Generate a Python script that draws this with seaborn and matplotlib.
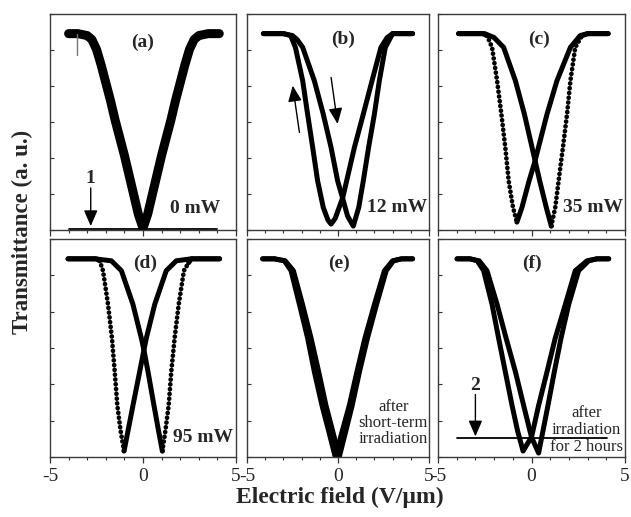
import numpy as np
import pandas as pd
import matplotlib
matplotlib.use("Agg")
import matplotlib.pyplot as plt
import seaborn as sns

# ---------------- data ----------------
# Electric field (V/um) and normalised transmittance for each sweep
A_E = [-4.0, -3.5, -3.0, -2.75, -2.5, -2.25, -2.0, -1.75, -1.5, -1.25, -1.0, -0.75, -0.5, -0.25, 0.0,
       0.25, 0.5, 0.75, 1.0, 1.25, 1.5, 1.75, 2.0, 2.25, 2.5, 2.75, 3.0, 3.5, 4.1]
A_T = [1.00, 1.00, 0.99, 0.97, 0.92, 0.84, 0.75, 0.66, 0.56, 0.47, 0.38, 0.28, 0.18, 0.08, 0.01,
       0.08, 0.18, 0.28, 0.38, 0.47, 0.56, 0.66, 0.75, 0.84, 0.92, 0.97, 0.99, 1.00, 1.00]
A_SPIKE_E = [-3.55, -3.55]
A_SPIKE_T = [1.00, 0.89]

B1_E = [-4.1, -3.5, -3.0, -2.6, -2.34, -1.94, -1.67, -1.39, -1.12, -0.81, -0.55, -0.38, -0.15, 0.26, 0.6,
        0.9, 1.39, 1.87, 2.36, 2.7, 3.0, 3.5, 4.1]
B1_T = [1.0, 1.0, 1.0, 0.99, 0.93, 0.76, 0.59, 0.42, 0.25, 0.115, 0.05, 0.03, 0.06, 0.165, 0.30,
        0.42, 0.59, 0.76, 0.93, 0.98, 1.0, 1.0, 1.0]
B2_E = [-4.1, -3.5, -3.0, -2.5, -2.25, -1.94, -1.3, -0.81, -0.38, -0.02, 0.26, 0.53, 0.84, 1.14, 1.39,
        1.68, 2.0, 2.27, 2.6, 3.0, 3.5, 4.1]
B2_T = [1.0, 1.0, 1.0, 0.99, 0.97, 0.93, 0.76, 0.59, 0.42, 0.25, 0.16, 0.07, 0.02, 0.115, 0.25,
        0.42, 0.59, 0.76, 0.93, 1.0, 1.0, 1.0]

C1_E = [-3.9, -3.0, -2.6, -2.38, -2.11, -1.84, -1.61, -1.4, -1.22, -0.99, -0.78, -0.51, -0.13, 0.17,
        0.37, 0.83, 1.36, 2.08, 2.6, 3.0, 4.1]
C1_T = [1.0, 1.0, 1.0, 0.99, 0.93, 0.76, 0.59, 0.42, 0.25, 0.115, 0.04, 0.115, 0.25, 0.345,
        0.42, 0.59, 0.76, 0.93, 0.99, 1.0, 1.0]
C2_E = [-3.9, -3.0, -2.5, -2.0, -1.49, -0.86, -0.38, 0.03, 0.44, 0.79, 1.06, 1.27, 1.45, 1.68, 1.9,
        2.08, 2.34, 2.7, 3.0, 4.1]
C2_T = [1.0, 1.0, 1.0, 0.98, 0.93, 0.76, 0.59, 0.42, 0.25, 0.115, 0.02, 0.115, 0.25, 0.42, 0.59,
        0.76, 0.93, 0.99, 1.0, 1.0]

D1_E = [-4.03, -3.0, -2.5, -2.33, -2.15, -1.88, -1.67, -1.52, -1.38, -1.2, -1.02, -0.81, -0.54, -0.18,
        0.05, 0.18, 0.63, 1.25, 1.79, 2.6, 4.12]
D1_T = [1.0, 1.0, 1.0, 0.99, 0.94, 0.77, 0.60, 0.43, 0.26, 0.13, 0.03, 0.13, 0.26, 0.43,
        0.54, 0.60, 0.77, 0.94, 0.99, 1.0, 1.0]
D2_E = [-4.03, -2.6, -1.7, -1.16, -0.54, -0.09, 0.05, 0.27, 0.59, 0.84, 1.04, 1.2, 1.38, 1.52, 1.7,
        1.92, 2.2, 2.45, 2.6, 4.12]
D2_T = [1.0, 1.0, 0.99, 0.94, 0.77, 0.60, 0.54, 0.43, 0.26, 0.13, 0.03, 0.13, 0.26, 0.43, 0.60,
        0.77, 0.94, 0.98, 1.0, 1.0]

E1_E = [-4.14, -3.5, -2.95, -2.58, -2.12, -1.67, -1.3, -0.88, -0.51, -0.15, 0.2, 0.62, 1.04, 1.48,
        2.0, 2.55, 3.0, 3.5, 4.1]
E1_T = [1.0, 1.0, 0.99, 0.94, 0.77, 0.60, 0.43, 0.26, 0.13, 0.0, 0.12, 0.26, 0.43, 0.60,
        0.77, 0.94, 0.99, 1.0, 1.0]
E2_E = [-4.14, -3.5, -2.9, -2.45, -1.95, -1.48, -1.06, -0.66, -0.29, 0.07, 0.4, 0.78, 1.18, 1.62,
        2.12, 2.65, 3.05, 3.5, 4.1]
E2_T = [1.0, 1.0, 0.99, 0.94, 0.77, 0.60, 0.43, 0.26, 0.13, 0.0, 0.12, 0.26, 0.43, 0.60,
        0.77, 0.94, 0.99, 1.0, 1.0]

F1_E = [-3.98, -3.3, -2.9, -2.56, -2.11, -1.76, -1.4, -1.04, -0.74, -0.45, -0.2, 0.0, 0.38, 0.83,
        1.27, 1.81, 2.34, 2.97, 3.5, 4.13]
F1_T = [1.0, 1.0, 0.99, 0.94, 0.77, 0.60, 0.43, 0.26, 0.13, 0.03, 0.07, 0.10, 0.26, 0.43,
        0.60, 0.77, 0.94, 0.99, 1.0, 1.0]
F2_E = [-3.98, -3.3, -2.8, -2.38, -1.84, -1.36, -0.86, -0.42, 0.0, 0.38, 0.61, 0.88, 1.22, 1.58,
        1.99, 2.52, 3.06, 3.5, 4.13]
F2_T = [1.0, 1.0, 0.99, 0.94, 0.77, 0.60, 0.43, 0.26, 0.10, 0.02, 0.13, 0.26, 0.43, 0.60,
        0.77, 0.94, 0.99, 1.0, 1.0]

# reference levels (1: zero transmittance, 2: after 2 h irradiation)
BASE1_E = [-4.0, 4.0]
BASE1_T = [0.004, 0.004]
BASE2_E = [-3.98, 4.04]
BASE2_T = [0.096, 0.096]

PANEL_LABELS = ["(a)", "(b)", "(c)", "(d)", "(e)", "(f)"]
POWER_LABELS = ["0 mW", "12 mW", "35 mW", "95 mW"]
X_TICKS = [-5, 0, 5]
X_TICK_LABELS = ["-5", "0", "5"]

# ---------------- style ----------------
sns.set_style("white")
plt.rcParams["font.family"] = ["Liberation Serif", "DejaVu Serif"]
plt.rcParams["axes.unicode_minus"] = False

fig = plt.figure(figsize=(6.31, 5.17), dpi=100)
W, H = 631.0, 517.0
cols = [(50, 236), (247, 429), (438, 625)]
rows = [(14, 230), (239, 457)]
axes = []
for r, (yt, yb) in enumerate(rows):
    for c, (xl, xr) in enumerate(cols):
        ax = fig.add_axes([xl / W, 1 - yb / H, (xr - xl) / W, (yb - yt) / H])
        axes.append(ax)

YMAX = 1.1
LW = 3.6
DOT = (0, (0.01, 1.0))


def seg(ax, e, t, lw=LW, ls="-"):
    df = pd.DataFrame({"E": e, "T": t})
    sns.lineplot(data=df, x="E", y="T", ax=ax, color="black", linewidth=lw,
                 estimator=None, sort=False, linestyle=ls, solid_capstyle="round",
                 dash_capstyle="round", legend=False)


def curve(ax, e, t, lw=LW, dotted=None):
    e = list(e)
    t = list(t)
    imin = int(np.argmin(t))
    if dotted is None:
        seg(ax, e, t, lw)
    elif dotted == "left":
        i0 = max(i for i in range(imin) if t[i] >= 0.99)
        seg(ax, e[:i0 + 1], t[:i0 + 1], lw)
        seg(ax, e[i0:imin + 1], t[i0:imin + 1], lw * 0.95, DOT)
        seg(ax, e[imin:], t[imin:], lw)
    else:
        i1 = min(i for i in range(imin, len(t)) if t[i] >= 0.98)
        seg(ax, e[:imin + 1], t[:imin + 1], lw)
        seg(ax, e[imin:i1 + 1], t[imin:i1 + 1], lw * 0.95, DOT)
        seg(ax, e[i1:], t[i1:], lw)


axA, axB, axC, axD, axE, axF = axes

curve(axA, A_E, A_T, lw=6.5)
seg(axA, A_SPIKE_E, A_SPIKE_T, lw=1.0)
axA.lines[-1].set_color("#777777")
seg(axA, BASE1_E, BASE1_T, lw=1.3)

curve(axB, B1_E, B1_T)
curve(axB, B2_E, B2_T)

curve(axC, C1_E, C1_T, dotted="left")
curve(axC, C2_E, C2_T, dotted="right")

curve(axD, D1_E, D1_T, dotted="left")
curve(axD, D2_E, D2_T, dotted="right")

curve(axE, E1_E, E1_T)
curve(axE, E2_E, E2_T)

curve(axF, F1_E, F1_T)
curve(axF, F2_E, F2_T)
seg(axF, BASE2_E, BASE2_T, lw=1.3)

# axes formatting
for i, ax in enumerate(axes):
    ax.set_xlim(-5, 5)
    ax.set_ylim(0, YMAX)
    ax.set_xlabel("")
    ax.set_ylabel("")
    ax.set_xticks(X_TICKS)
    ax.set_xticks(np.arange(-5, 6, 1), minor=True)
    ax.set_yticks(np.linspace(0, YMAX, 7))
    ax.set_yticklabels([])
    if i >= 3:
        ax.set_xticklabels(X_TICK_LABELS, fontsize=14)
    else:
        ax.set_xticklabels([])
    ax.tick_params(axis="x", which="major", direction="out", length=4, width=0.9,
                   color="#333333", pad=4, bottom=True)
    ax.tick_params(axis="x", which="minor", direction="out", length=2, width=0.8,
                   color="#333333", bottom=True)
    ax.tick_params(axis="y", which="major", direction="in", length=3, width=0.8,
                   color="#333333", left=True)
    for s in ax.spines.values():
        s.set_color("#3a3a3a")
        s.set_linewidth(1.0)
        s.set_visible(True)

# panel labels
lab_pos = [(0.0, 0.957), (0.3, 0.973), (0.4, 0.973), (0.1, 0.979), (0.05, 0.979), (0.0, 0.979)]
for ax, lab, (x, y) in zip(axes, PANEL_LABELS, lab_pos):
    ax.text(x, y, lab, ha="center", va="center", fontsize=14, fontweight="bold")

axA.text(4.14, 0.107, POWER_LABELS[0], ha="right", va="center", fontsize=14, fontweight="bold")
axB.text(4.92, 0.117, POWER_LABELS[1], ha="right", va="center", fontsize=14, fontweight="bold")
axC.text(4.88, 0.117, POWER_LABELS[2], ha="right", va="center", fontsize=14, fontweight="bold")
axD.text(4.84, 0.096, POWER_LABELS[3], ha="right", va="center", fontsize=14, fontweight="bold")
axE.text(4.95, 0.172, "after\nshort-term\nirradiation", ha="right", va="center",
         multialignment="center", fontsize=12, linespacing=1.02)
axF.text(4.9, 0.136, "after\nirradiation\nfor 2 hours", ha="right", va="center",
         multialignment="center", fontsize=12, linespacing=1.05)

# arrows
arrow_big = dict(arrowstyle="-|>,head_length=0.6,head_width=0.26", color="black",
                 lw=1.0, mutation_scale=16, shrinkA=0, shrinkB=0)
axA.annotate("", xy=(-2.81, 0.02), xytext=(-2.81, 0.214), arrowprops=arrow_big)
axA.text(-2.81, 0.26, "1", ha="center", va="center", fontsize=14, fontweight="bold")
axF.annotate("", xy=(-3.0, 0.104), xytext=(-3.0, 0.315), arrowprops=arrow_big)
axF.text(-3.0, 0.36, "2", ha="center", va="center", fontsize=14, fontweight="bold")
axB.annotate("", xy=(-2.49, 0.735), xytext=(-2.12, 0.497), arrowprops=arrow_big)
axB.annotate("", xy=(-0.02, 0.54), xytext=(-0.38, 0.777), arrowprops=arrow_big)

fig.text(0.035, 1 - 232 / H, "Transmittance (a. u.)", rotation=90, ha="center", va="center",
         fontsize=16.5, fontweight="bold")
fig.text(340 / W, 1 - 497 / H, "Electric field (V/\u03bcm)", ha="center", va="center",
         fontsize=17, fontweight="bold")

fig.savefig("out.png", dpi=100)
